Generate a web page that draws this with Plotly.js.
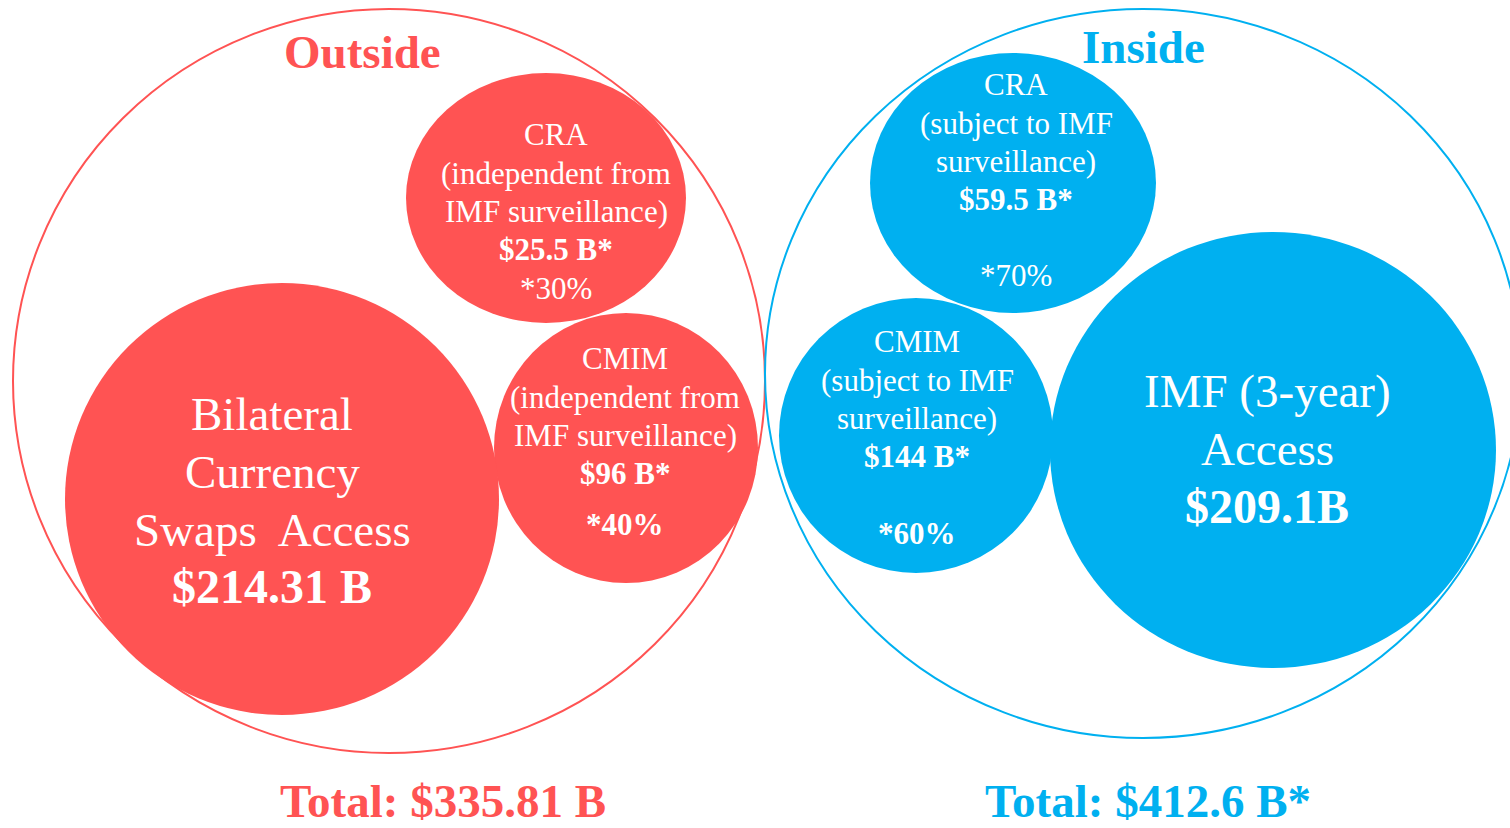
<!DOCTYPE html>
<html>
<head>
<meta charset="utf-8">
<script src="https://cdn.plot.ly/plotly-3.0.1.min.js"></script>
<style>html,body{margin:0;padding:0;background:#fff;}#chart{width:1510px;height:828px;}</style>
</head>
<body>
<div id="chart"></div>
<script>
// ---------------- DATA ----------------
const groupNames = ['Outside', 'Inside'];
const groupTotals = [335.81, 412.6];
const groupTotalLabels = ['Total: $335.81 B', 'Total: $412.6 B*'];

const bubbleGroup = [0, 0, 0, 1, 1, 1];
const bubbleTitles = [
  ['CRA', '(independent from', 'IMF surveillance)'],
  ['CMIM', '(independent from', 'IMF surveillance)'],
  ['Bilateral', 'Currency', 'Swaps\u00A0 Access'],
  ['CRA', '(subject to IMF', 'surveillance)'],
  ['CMIM', '(subject to IMF', 'surveillance)'],
  ['IMF (3-year)', 'Access']
];
const bubbleValues = [25.5, 96, 214.31, 59.5, 144, 209.1];
const bubbleValueLabels = ['$25.5 B*', '$96 B*', '$214.31 B', '$59.5 B*', '$144 B*', '$209.1B'];
const bubbleShareLabels = ['*30%', '*40%', '', '*70%', '*60%', ''];

// ---------------- LAYOUT / STYLE (pixel-space axes) ----------------
const groupColors = ['#FF5353', '#00B0F0'];
const ringGeo = [
  {cx: 389, cy: 381, rx: 376, ry: 372},
  {cx: 1143, cy: 373.5, rx: 378, ry: 364.5}
];
const groupTitlePos = [{x: 362, y: 52}, {x: 1143, y: 47}];
const groupTotalPos = [{x: 443, y: 828}, {x: 1148, y: 828}];

const bubbleGeo = [
  {cx: 546, cy: 198, rx: 140, ry: 125},
  {cx: 626, cy: 448, rx: 132, ry: 135},
  {cx: 282, cy: 499, rx: 217, ry: 216},
  {cx: 1013, cy: 183, rx: 143, ry: 130},
  {cx: 916, cy: 435.5, rx: 137, ry: 137.5},
  {cx: 1273, cy: 450, rx: 223, ry: 218}
];
const textX = [556, 625, 272, 1016, 917, 1267];
const lineYs = [
  [134, 173, 211, 249, 288],
  [358, 397, 435, 473, 524],
  [414, 472, 530, 586],
  [84, 123, 161, 199, 275],
  [341, 380, 418, 456, 533],
  [391, 449, 506]
];
const textSize = [31, 31, 47, 31, 31, 47];
const valueSize = [31, 31, 48, 31, 31, 48];
const shareBold = [false, true, false, false, true, false];

const FONT = 'Liberation Serif, Times New Roman, serif';

const shapes = [];
const annotations = [];

ringGeo.forEach((g, i) => {
  shapes.push({
    type: 'circle', xref: 'x', yref: 'y', layer: 'below',
    x0: g.cx - g.rx, x1: g.cx + g.rx, y0: g.cy - g.ry, y1: g.cy + g.ry,
    line: {color: groupColors[i], width: 2}, fillcolor: 'rgba(0,0,0,0)'
  });
});
bubbleGeo.forEach((g, i) => {
  shapes.push({
    type: 'circle', xref: 'x', yref: 'y', layer: 'below',
    x0: g.cx - g.rx, x1: g.cx + g.rx, y0: g.cy - g.ry, y1: g.cy + g.ry,
    line: {width: 0}, fillcolor: groupColors[bubbleGroup[i]]
  });
});

function addText(txt, x, y, size, color, bold, yanchor) {
  annotations.push({
    xref: 'x', yref: 'y', x: x, y: y, text: bold ? '<b>' + txt + '</b>' : txt,
    showarrow: false, xanchor: 'center', yanchor: yanchor || 'middle', borderpad: 0,
    font: {family: FONT, size: size, color: color}
  });
}

groupNames.forEach((n, i) => {
  addText(n, groupTitlePos[i].x, groupTitlePos[i].y, 47, groupColors[i], true);
  addText(groupTotalLabels[i], groupTotalPos[i].x, groupTotalPos[i].y, 47, groupColors[i], true, 'bottom');
});

bubbleTitles.forEach((lines, i) => {
  const ys = lineYs[i];
  let k = 0;
  lines.forEach(l => { addText(l, textX[i], ys[k], textSize[i], '#ffffff', false); k++; });
  addText(bubbleValueLabels[i], textX[i], ys[k], valueSize[i], '#ffffff', true); k++;
  if (bubbleShareLabels[i]) { addText(bubbleShareLabels[i], textX[i], ys[k], textSize[i], '#ffffff', shareBold[i]); }
});

// invisible trace carrying the values (hover)
const trace = {
  type: 'scatter', mode: 'markers',
  x: bubbleGeo.map(g => g.cx), y: bubbleGeo.map(g => g.cy),
  marker: {size: 1, opacity: 0},
  text: bubbleValues.map((v, i) => groupNames[bubbleGroup[i]] + ': ' + bubbleTitles[i][0] + ' $' + v + ' B'),
  hoverinfo: 'text', showlegend: false
};

const layout = {
  width: 1510, height: 828,
  margin: {l: 0, r: 0, t: 0, b: 0},
  paper_bgcolor: '#ffffff', plot_bgcolor: '#ffffff',
  xaxis: {range: [0, 1510], visible: false, fixedrange: true},
  yaxis: {range: [828, 0], visible: false, fixedrange: true},
  shapes: shapes, annotations: annotations, showlegend: false
};

Plotly.newPlot('chart', [trace], layout, {displayModeBar: false, staticPlot: true});
</script>
</body>
</html>
